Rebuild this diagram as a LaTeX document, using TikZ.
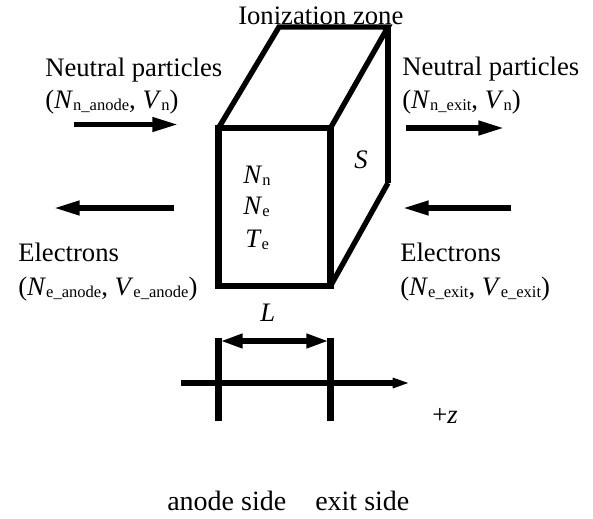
\documentclass[tikz,border=0pt]{standalone}
\usepackage{fontspec}
\setmainfont{Liberation Serif}
\usepackage{xcolor}
\usetikzlibrary{positioning,arrows.meta}
\newcommand{\qsub}[2]{\textit{#1}\raisebox{-2pt}{\fontsize{12.4}{13}\selectfont #2}}
\tikzset{
  wall/.style={line width=4.6pt,line join=miter},
  flowarrow/.style={line width=4.4pt,-{Triangle[length=20pt,width=10pt]}},
  spanarrow/.style={line width=4.4pt,{Triangle[length=17pt,width=10pt]}-{Triangle[length=17pt,width=10pt]}},
  axisarrow/.style={line width=4pt,-{Triangle[length=13pt,width=7pt]}},
  sidetick/.style={line width=5pt},
  lbl/.style={anchor=base west,inner sep=0pt,font=\fontsize{20}{22}\selectfont}
}
\begin{document}
\begin{tikzpicture}[x=0.75pt,y=-0.75pt]
  \useasboundingbox (0,0) rectangle (593,518);
  % front face, back edges of the zone
  \coordinate (fa) at (218.5,128);
  \coordinate (fb) at (330.5,128);
  \coordinate (fc) at (330.5,286);
  \coordinate (fd) at (218.5,286);
  \coordinate (ba) at (279,27);
  \coordinate (bb) at (388,27);
  \coordinate (bc) at (388,183);
  \draw[wall] (fa) -- (fb) -- (fc) -- (fd) -- cycle;
  \draw[wall,line width=4pt] (fa) -- (ba) -- (bb) -- (fb);
  \draw[wall] (bb) -- (bc);
  \draw[wall,line width=4pt] (fc) -- (bc);
  % flows
  \coordinate (nla) at (74,124.5);  \coordinate (nlb) at (179,124.5);
  \coordinate (nra) at (406,128);   \coordinate (nrb) at (505,128);
  \coordinate (ela) at (174,208);   \coordinate (elb) at (53,208);
  \coordinate (era) at (511,208);   \coordinate (erb) at (402,208);
  \draw[flowarrow] (nla) -- (nlb);
  \draw[flowarrow] (nra) -- (nrb);
  \draw[flowarrow] (ela) -- (elb);
  \draw[flowarrow] (era) -- (erb);
  % axis with the two sides
  \coordinate (ta) at (218.5,338);  \coordinate (tb) at (218.5,421);
  \coordinate (tc) at (330.5,338);  \coordinate (td) at (330.5,421);
  \coordinate (sa) at (220,341);    \coordinate (sb) at (329,341);
  \coordinate (za) at (181,383);    \coordinate (zb) at (410,383);
  \draw[sidetick] (ta) -- (tb);
  \draw[sidetick] (tc) -- (td);
  \draw[spanarrow] (sa) -- (sb);
  \draw[axisarrow] (za) -- (zb);
  % labels
  \node[lbl] (zone) at (238,24) {Ionization zone};
  \node[lbl] (nltxt) at (45,76) {Neutral particles};
  \node[lbl] (nlsym) at (45,108) {(\qsub{N}{n\_anode}, \qsub{V}{n})};
  \node[lbl] (nrtxt) at (402,75) {Neutral particles};
  \node[lbl] (nrsym) at (402,108) {(\qsub{N}{n\_exit}, \qsub{V}{n})};
  \node[lbl] (eltxt) at (18,261) {Electrons};
  \node[lbl] (elsym) at (18,295) {(\qsub{N}{e\_anode}, \qsub{V}{e\_anode})};
  \node[lbl] (ertxt) at (400,261) {Electrons};
  \node[lbl] (ersym) at (400,295) {(\qsub{N}{e\_exit}, \qsub{V}{e\_exit})};
  \node[lbl] (nn) at (243,183) {\qsub{N}{n}};
  \node[lbl] (ne) at (243,214) {\qsub{N}{e}};
  \node[lbl] (te) at (245,247) {\qsub{T}{e}};
  \node[lbl] (s) at (354,168) {\textit{S}};
  \node[lbl] (l) at (260,321) {\textit{L}};
  \node[lbl] (z) at (432,423) {+\textit{z}};
  \node[lbl,font=\fontsize{21}{23}\selectfont] (anode) at (167,510) {anode side};
  \node[lbl,font=\fontsize{21}{23}\selectfont] (exit) at (315,510) {exit side};
\end{tikzpicture}
\end{document}
